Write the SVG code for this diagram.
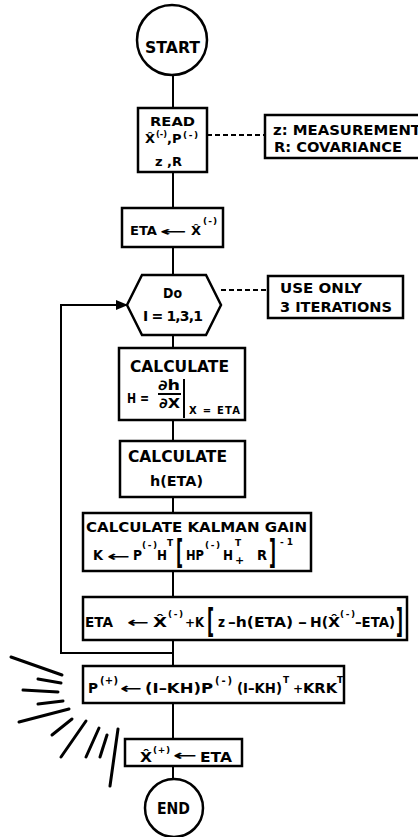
<svg xmlns="http://www.w3.org/2000/svg" width="418" height="837" viewBox="0 0 418 837" font-size="14">
<style>
text { font-family: "DejaVu Sans", "Liberation Sans", sans-serif; font-weight: bold; fill: #000; }
.box { fill: #fff; stroke: #000; stroke-width: 2.5; }
.ln { stroke: #000; stroke-width: 2; fill: none; }
.dash { stroke: #000; stroke-width: 2; stroke-dasharray: 5 3; fill: none; }
.flare { stroke: #000; stroke-width: 3; stroke-linecap: round; }
.sup { font-size: 9px; }
</style>
<defs>
<marker id="ah" markerWidth="12" markerHeight="10" refX="11" refY="5" orient="auto" markerUnits="userSpaceOnUse"><path d="M0,0 L12,5 L0,10 z" fill="#000"/></marker>
</defs>

<g id="connectors">
<path class="ln" d="M173,75 V108"/>
<path class="ln" d="M173,172 V208"/>
<path class="ln" d="M173,247 V275"/>
<path class="ln" d="M173,335 V348"/>
<path class="ln" d="M173,420 V441"/>
<path class="ln" d="M173,497 V513"/>
<path class="ln" d="M173,571 V597"/>
<path class="ln" d="M173,640 V666"/>
<path class="ln" d="M173,703 V739"/>
<path class="ln" d="M173,766 V779"/>
<path class="ln" d="M173,653 H61 V305 H127" marker-end="url(#ah)"/>
<path class="dash" d="M207,135 H265"/>
<path class="dash" d="M221,290 H268"/>
</g>

<g id="start">
<circle class="box" cx="172" cy="40" r="35"/>
<text x="145" y="53" font-size="15" textLength="55" lengthAdjust="spacingAndGlyphs">START</text>
</g>

<g id="read">
<rect class="box" x="138" y="108" width="69" height="64"/>
<text x="150" y="126" font-size="13" textLength="45" lengthAdjust="spacingAndGlyphs">READ</text>
<text x="145" y="143" font-size="13">X̂</text>
<text x="156" y="137" class="sup" textLength="11" lengthAdjust="spacingAndGlyphs">(-)</text>
<text x="167" y="143" font-size="13">,</text>
<text x="172" y="143" font-size="13">P</text>
<text x="183" y="138" class="sup" textLength="15" lengthAdjust="spacing">(-)</text>
<text x="155" y="166" font-size="13" textLength="27" lengthAdjust="spacing">z ,R</text>
</g>

<g id="note-read">
<rect class="box" x="265" y="115" width="170" height="43"/>
<text x="273" y="135" textLength="148" lengthAdjust="spacingAndGlyphs">z: MEASUREMENT</text>
<text x="274" y="152" textLength="128" lengthAdjust="spacingAndGlyphs">R: COVARIANCE</text>
</g>

<g id="eta-init">
<rect class="box" x="122" y="208" width="101" height="39"/>
<text x="130" y="235" font-size="13" textLength="27" lengthAdjust="spacingAndGlyphs">ETA</text>
<text x="160" y="236" font-size="13" textLength="27" lengthAdjust="spacingAndGlyphs">←</text>
<text x="191" y="235" font-size="13">X̂</text>
<text x="203" y="224" class="sup" textLength="14" lengthAdjust="spacing">(-)</text>
</g>

<g id="do-loop">
<polygon class="box" points="142,275 206,275 221,305 206,335 142,335 127,305"/>
<text x="163" y="298" textLength="19" lengthAdjust="spacingAndGlyphs">Do</text>
<text x="143" y="321" textLength="60" lengthAdjust="spacing">I = 1,3,1</text>
</g>

<g id="note-iter">
<rect class="box" x="268" y="276" width="135" height="42"/>
<text x="280" y="293" textLength="82" lengthAdjust="spacingAndGlyphs">USE ONLY</text>
<text x="280" y="312" textLength="112" lengthAdjust="spacingAndGlyphs">3 ITERATIONS</text>
</g>

<g id="calc-H">
<rect class="box" x="119" y="348" width="126" height="72"/>
<text x="130" y="372" font-size="16" textLength="99" lengthAdjust="spacingAndGlyphs">CALCULATE</text>
<text x="127" y="403" textLength="22" lengthAdjust="spacingAndGlyphs">H =</text>
<text x="158" y="390" textLength="22" lengthAdjust="spacingAndGlyphs">∂h</text>
<line class="ln" x1="158" y1="394" x2="181" y2="394" stroke-width="1.5"/>
<text x="159" y="408" textLength="21" lengthAdjust="spacingAndGlyphs">∂X</text>
<line class="ln" x1="184" y1="379" x2="184" y2="418" stroke-width="2.5"/>
<text x="189" y="414" font-size="10" textLength="51" lengthAdjust="spacing">X = ETA</text>
</g>

<g id="calc-h">
<rect class="box" x="120" y="441" width="125" height="56"/>
<text x="128" y="462" font-size="15" textLength="99" lengthAdjust="spacingAndGlyphs">CALCULATE</text>
<text x="150" y="486" font-size="14" textLength="53" lengthAdjust="spacingAndGlyphs">h(ETA)</text>
</g>

<g id="calc-K">
<rect class="box" x="83" y="513" width="228" height="58"/>
<text x="86" y="532" textLength="221" lengthAdjust="spacingAndGlyphs">CALCULATE KALMAN GAIN</text>
<text x="93" y="560" textLength="10" lengthAdjust="spacingAndGlyphs">K</text>
<text x="107" y="561" textLength="23" lengthAdjust="spacingAndGlyphs">←</text>
<text x="133" y="560" textLength="9" lengthAdjust="spacingAndGlyphs">P</text>
<text x="142" y="548" class="sup" textLength="15" lengthAdjust="spacing">(-)</text>
<text x="157" y="560" textLength="10" lengthAdjust="spacingAndGlyphs">H</text>
<text x="167" y="546" class="sup">T</text>
<text x="176" y="564" font-size="34" textLength="7" lengthAdjust="spacingAndGlyphs">[</text>
<text x="186" y="560" textLength="18" lengthAdjust="spacingAndGlyphs">HP</text>
<text x="205" y="548" class="sup" textLength="15" lengthAdjust="spacing">(-)</text>
<text x="223" y="560" textLength="10" lengthAdjust="spacingAndGlyphs">H</text>
<text x="235" y="546" class="sup">T</text>
<text x="235" y="564" font-size="11">+</text>
<text x="257" y="560" textLength="10" lengthAdjust="spacingAndGlyphs">R</text>
<text x="269" y="564" font-size="34" textLength="7" lengthAdjust="spacingAndGlyphs">]</text>
<text x="280" y="545" class="sup" textLength="13" lengthAdjust="spacing">-1</text>
</g>

<g id="update-eta">
<rect class="box" x="83" y="597" width="324" height="43"/>
<text x="85" y="627" textLength="28" lengthAdjust="spacingAndGlyphs">ETA</text>
<text x="127" y="627" textLength="22" lengthAdjust="spacingAndGlyphs">←</text>
<text x="153" y="627" textLength="14" lengthAdjust="spacingAndGlyphs">X̂</text>
<text x="168" y="617" class="sup" textLength="15" lengthAdjust="spacing">(-)</text>
<text x="185" y="627" font-size="12">+</text>
<text x="195" y="627" textLength="9" lengthAdjust="spacingAndGlyphs">K</text>
<text x="207" y="633" font-size="34" textLength="7" lengthAdjust="spacingAndGlyphs">[</text>
<text x="218" y="627" textLength="7" lengthAdjust="spacingAndGlyphs">z</text>
<text x="228" y="627" textLength="65" lengthAdjust="spacingAndGlyphs">–h(ETA)</text>
<text x="298" y="627" textLength="9" lengthAdjust="spacingAndGlyphs">–</text>
<text x="310" y="627" textLength="18" lengthAdjust="spacingAndGlyphs">H(</text>
<text x="328" y="627" textLength="12" lengthAdjust="spacingAndGlyphs">X̂</text>
<text x="340" y="617" class="sup" textLength="15" lengthAdjust="spacing">(-)</text>
<text x="355" y="627" textLength="40" lengthAdjust="spacingAndGlyphs">–ETA)</text>
<text x="396" y="633" font-size="34" textLength="7" lengthAdjust="spacingAndGlyphs">]</text>
</g>

<g id="update-P">
<rect class="box" x="83" y="666" width="261" height="37"/>
<text x="88" y="693" textLength="10" lengthAdjust="spacingAndGlyphs">P</text>
<text x="100" y="684" font-size="10" textLength="18" lengthAdjust="spacing">(+)</text>
<text x="120" y="693" textLength="22" lengthAdjust="spacingAndGlyphs">←</text>
<text x="145" y="693" textLength="68" lengthAdjust="spacingAndGlyphs">(I–KH)P</text>
<text x="215" y="684" font-size="10" textLength="17" lengthAdjust="spacing">(-)</text>
<text x="237" y="693" textLength="45" lengthAdjust="spacingAndGlyphs">(I–KH)</text>
<text x="283" y="683" class="sup">T</text>
<text x="293" y="693" font-size="12">+</text>
<text x="303" y="693" textLength="34" lengthAdjust="spacingAndGlyphs">KRK</text>
<text x="337" y="683" class="sup">T</text>
</g>

<g id="output">
<rect class="box" x="125" y="739" width="117" height="27"/>
<text x="140" y="762" textLength="12" lengthAdjust="spacingAndGlyphs">X̂</text>
<text x="153" y="753" class="sup" textLength="17" lengthAdjust="spacing">(+)</text>
<text x="173" y="760" textLength="24" lengthAdjust="spacingAndGlyphs">←</text>
<text x="200" y="762" textLength="32" lengthAdjust="spacingAndGlyphs">ETA</text>
</g>

<g id="end">
<circle class="box" cx="174" cy="808" r="29"/>
<text x="157" y="814" font-size="15" textLength="33" lengthAdjust="spacingAndGlyphs">END</text>
</g>

<g id="flare">
<line class="flare" x1="11" y1="657" x2="62" y2="675"/>
<line class="flare" x1="38" y1="679" x2="61" y2="683"/>
<line class="flare" x1="23" y1="690" x2="58" y2="692"/>
<line class="flare" x1="38" y1="704" x2="63" y2="701"/>
<line class="flare" x1="19" y1="722" x2="69" y2="709"/>
<line class="flare" x1="52" y1="735" x2="72" y2="719"/>
<line class="flare" x1="61" y1="757" x2="86" y2="721"/>
<line class="flare" x1="86" y1="757" x2="99" y2="728"/>
<line class="flare" x1="100" y1="757" x2="107" y2="735"/>
<line class="flare" x1="110" y1="786" x2="118" y2="729"/>
</g>
</svg>
